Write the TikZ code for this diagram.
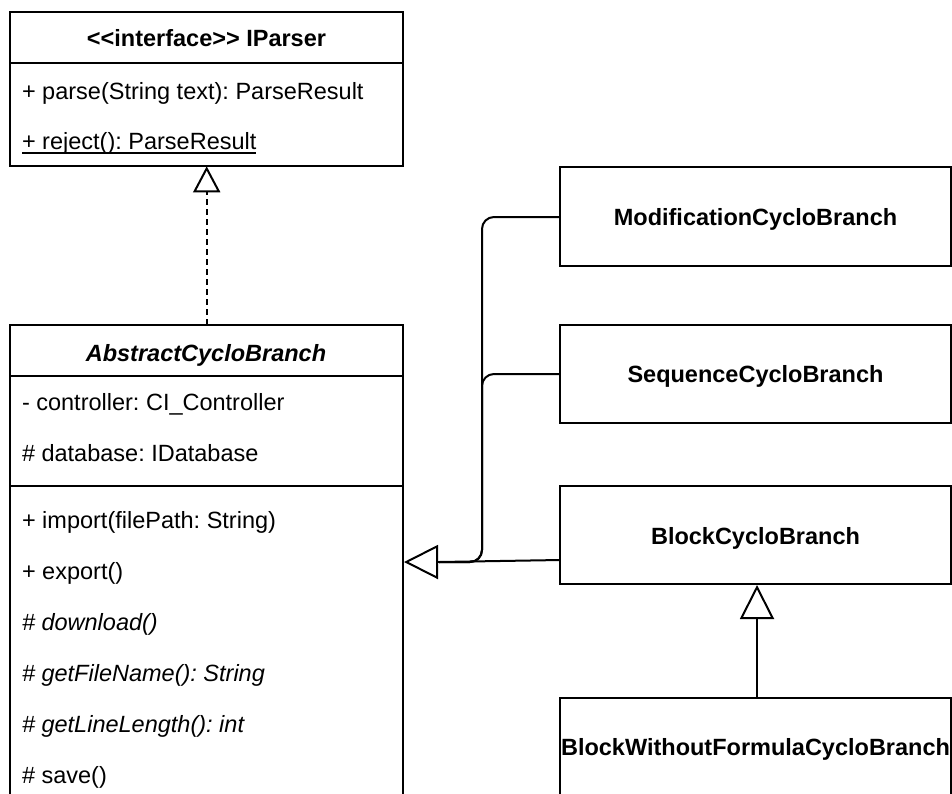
\documentclass[tikz,border=0pt]{standalone}
\usepackage{fontspec}
\newfontfamily\uml{Liberation Sans}
\usetikzlibrary{arrows.meta}
\frenchspacing
\begin{document}
\begin{tikzpicture}[x=1pt,y=-1pt,
  every node/.style={font=\uml\fontsize{23.5}{28}\selectfont\frenchspacing},
  box/.style={draw=black,line width=2pt,fill=white,anchor=north west,inner sep=0pt,outer sep=0pt},
  lbl/.style={anchor=base west,inner sep=0pt,outer sep=0pt},
  ttl/.style={anchor=base,inner sep=0pt,outer sep=0pt,font=\uml\fontsize{23.5}{28}\selectfont\bfseries},
  conn/.style={line width=2pt,draw=black},
  gentip/.style={-{Triangle[open,length=34pt,width=34pt,line width=2pt]}},
]
\clip (0,0) rectangle (952,793);
\fill[white] (0,0) rectangle (952,793);

% IParser
\node[box,minimum width=393pt,minimum height=153.5pt] (ip) at (10,12.3) {};
\draw[conn] (10,62.7) -- (403,62.7);
\node[ttl] (iptitle) at (206.5,46.5) {<{}<interface>{}> IParser};
\node[lbl] (parse) at (22,99) {+ parse(String text): ParseResult};
\node[lbl] (reject) at (22,149.5) {+ reject(): ParseResult};
\draw[line width=1.6pt] ([yshift=-3.3pt]reject.base west) -- ([yshift=-3.3pt]reject.base east);

% AbstractCycloBranch
\node[box,minimum width=393pt,minimum height=520pt] (abs) at (10,324.5) {};
\draw[conn] (10,376) -- (403,376);
\draw[conn] (10,486) -- (403,486);
\node[ttl,font=\uml\fontsize{23.5}{28}\selectfont\bfseries\itshape] (abstitle) at (206,361) {AbstractCycloBranch};
\node[lbl] (a1) at (22,410) {- controller: CI\_Controller};
\node[lbl] (a2) at (22,461) {\# database: IDatabase};
\node[lbl] (m1) at (22,528.3) {+ import(filePath: String)};
\node[lbl] (m2) at (22,579.3) {+ export()};
\node[lbl] (m3) at (22,630.3) {\itshape\# download()};
\node[lbl] (m4) at (22,681.3) {\itshape\# getFileName(): String};
\node[lbl] (m5) at (22,732.3) {\itshape\# getLineLength(): int};
\node[lbl] (m6) at (22,783.3) {\# save()};

% Right boxes
\node[box,minimum width=391pt,minimum height=99pt] (mod) at (560,167) {};
\node[ttl] (modt) at (755.5,225.8) {ModificationCycloBranch};
\node[box,minimum width=391pt,minimum height=98pt] (seq) at (560,325) {};
\node[ttl] (seqt) at (755.5,382.5) {SequenceCycloBranch};
\node[box,minimum width=391pt,minimum height=98pt] (blk) at (560,486) {};
\node[ttl] (blkt) at (755.5,544) {BlockCycloBranch};
\node[box,minimum width=391pt,minimum height=140pt] (bwf) at (560,698) {};
\node[ttl] (bwft) at (755.5,755) {BlockWithoutFormulaCycloBranch};

% Realization IParser <- AbstractCycloBranch
\coordinate (absTop) at (206.7,324.5);
\coordinate (ipBot) at (206.7,166.3);
\draw[conn,dash pattern=on 6pt off 4pt] (absTop) -- ([yshift=-27pt]ipBot);
\draw[conn,-{Triangle[open,length=26pt,width=27pt,line width=2pt]}] ([yshift=-27pt]ipBot) -- (ipBot);

% Generalizations to AbstractCycloBranch
\coordinate (genTip) at (404,562);
\coordinate (genBase) at (439,562);
\coordinate (modIn) at (560,217);
\coordinate (seqIn) at (560,374);
\coordinate (blkIn) at (560,560);
\draw[conn,rounded corners=12pt] (modIn) -| (482,562) -- (genBase);
\draw[conn,rounded corners=12pt] (seqIn) -| (482,562) -- (genBase);
\draw[conn] (blkIn) -- (genBase);
\draw[conn,gentip] (genBase) -- (genTip);

% BlockWithoutFormula -> Block
\coordinate (bwfTop) at (757,698);
\coordinate (blkBot) at (757,585);
\draw[conn,gentip] (bwfTop) -- (blkBot);
\end{tikzpicture}
\end{document}
